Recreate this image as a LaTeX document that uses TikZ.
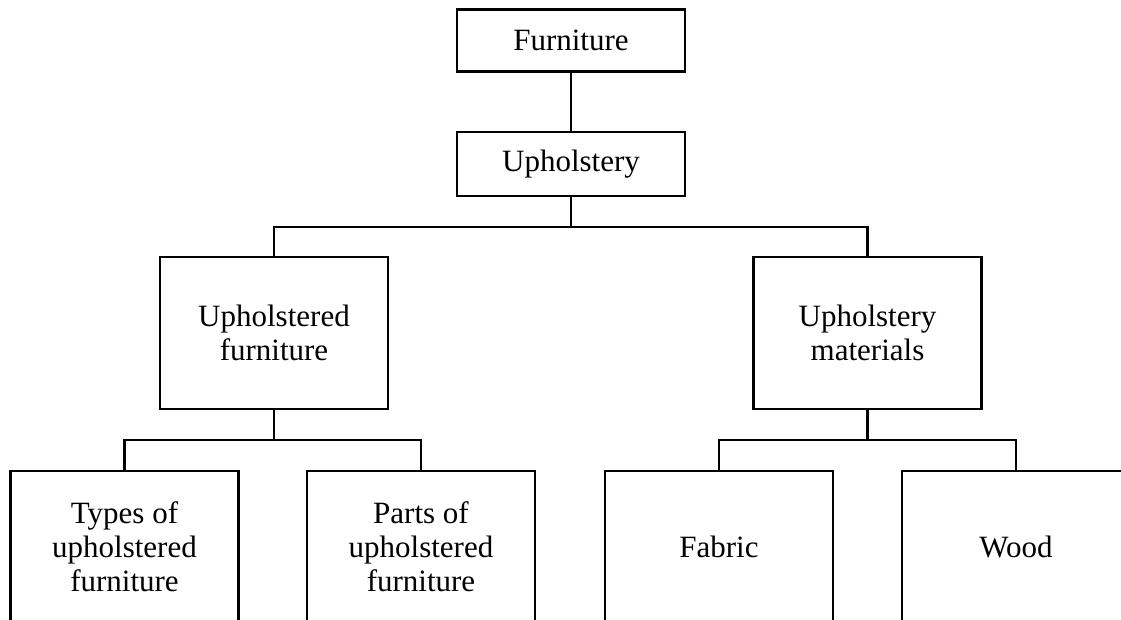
\documentclass[tikz,border=0pt]{standalone}
\usepackage{fontspec}
\setmainfont{Liberation Serif}
\begin{document}
\begin{tikzpicture}[x=1pt,y=-1pt,
  every node/.style={font=\fontsize{31}{34}\selectfont},
  box/.style={draw, line width=2.4pt, align=center, inner sep=0pt,
    minimum width=228pt},
  topbox/.style={box, minimum height=62pt},
  bigbox/.style={box, minimum height=152pt},
  link/.style={line width=2.4pt}]
\useasboundingbox (0,0) rectangle (1121,620);
\clip (0,0) rectangle (1121,620);

% top chain
\node[topbox] (furn) at (571,40.5) {Furniture};
\node[topbox, minimum height=64pt] (uph) at (571,164) {Upholstery};

% second level
\node[bigbox] (uf) at (274,333) {Upholstered\\furniture};
\node[bigbox] (um) at (867.5,333) {Upholstery\\materials};

% bottom level (runs past the lower edge)
\node[bigbox] (types)  at (124.5,547) {Types of\\upholstered\\furniture};
\node[bigbox] (parts)  at (421,547)   {Parts of\\upholstered\\furniture};
\node[bigbox] (fabric) at (719,547)   {Fabric};
\node[bigbox] (wood)   at (1016,547)  {Wood};

% junction points
\coordinate (j1) at (571,227);
\coordinate (j2) at (274,440);
\coordinate (j3) at (867.5,440);

% connectors
\draw[link] (furn.south) -- (uph.north);
\draw[link] (uph.south) -- (j1);
\draw[link] (uf.north) |- (j1) -| (um.north);
\draw[link] (uf.south) -- (j2);
\draw[link] (types.north) |- (j2) -| (parts.north);
\draw[link] (um.south) -- (j3);
\draw[link] (fabric.north) |- (j3) -| (wood.north);
\end{tikzpicture}
\end{document}
